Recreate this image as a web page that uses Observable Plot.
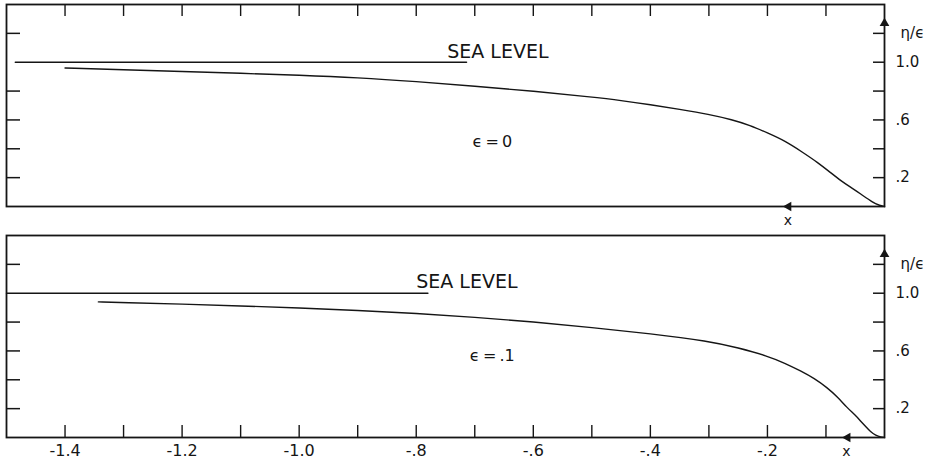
<!DOCTYPE html>
<html>
<head>
<meta charset="utf-8">
<script src="https://cdn.jsdelivr.net/npm/d3@7"></script>
<script src="https://cdn.jsdelivr.net/npm/@observablehq/plot@0.6"></script>
<style>
  html, body { margin: 0; padding: 0; background: #fff; }
  #chart svg { display: block; }
</style>
</head>
<body>
<div id="chart"></div>
<script>
// ---- Data ----
// Panel 1: epsilon = 0
const xEps0   = [-1.4,-1.3,-1.2,-1.1,-1.0,-0.9,-0.8,-0.7,-0.6,-0.5,-0.45,-0.4,-0.35,-0.3,-0.26,-0.23,-0.2,-0.17,-0.14,-0.115,-0.09,-0.075,-0.06,-0.041,-0.02,-0.008,0];
const etaEps0 = [0.96,0.948,0.936,0.923,0.91,0.893,0.866,0.834,0.80,0.758,0.735,0.706,0.673,0.639,0.601,0.563,0.51,0.455,0.376,0.308,0.228,0.18,0.139,0.088,0.028,0.006,0];
// Panel 2: epsilon = .1
const xEps1   = [-1.343,-1.3,-1.2,-1.1,-1.0,-0.9,-0.8,-0.7,-0.6,-0.5,-0.4,-0.3,-0.25,-0.2,-0.17,-0.143,-0.12,-0.098,-0.08,-0.064,-0.05,-0.041,-0.032,-0.024,-0.015,-0.006,0];
const etaEps1 = [0.94,0.935,0.925,0.912,0.898,0.881,0.86,0.833,0.802,0.762,0.72,0.668,0.622,0.565,0.515,0.461,0.41,0.346,0.28,0.207,0.155,0.115,0.075,0.04,0.015,0.003,0];

// Sea level segments (x extents), sea level value
const seaLevel = 1.0;
const seaX0 = [-1.485, -0.714];
const seaX1 = [-1.5, -0.78];

// Ticks and labels
const xMinorTicks = [-1.4,-1.3,-1.2,-1.1,-1.0,-0.9,-0.8,-0.7,-0.6,-0.5,-0.4,-0.3,-0.2,-0.1];
const xLabelTicks = [-1.4,-1.2,-1.0,-0.8,-0.6,-0.4,-0.2];
const xTickLabels = ["-1.4","-1.2","-1.0","-.8","-.6","-.4","-.2"];
const yLeftTicks  = [0.2,0.4,0.6,0.8,1.2];
const yRightTicks = [0.2,0.4,0.6,0.8,1.0,1.2];
const yLabelTicks = [0.2,0.6,1.0];
const yTickLabels = [".2",".6","1.0"];

// Annotation texts
const seaText = "SEA LEVEL";
const eps0Text = "\u03F5\u2009=\u20090";
const eps1Text = "\u03F5\u2009=\u2009.1";
const yAxisText = "\u03B7/\u03F5";
const xAxisText = "x";

// Annotation positions (data coordinates)
const seaLabel0 = {x: -0.747, y: 1.071};
const seaLabel1 = {x: -0.80, y: 1.076};
const epsLabel0 = {x: -0.67, y: 0.451};
const epsLabel1 = {x: -0.67, y: 0.565};
const xArrow0 = -0.164, xArrow1 = -0.063;
const yArrow = 1.27;
const xLab0 = -0.165, xLab1 = -0.065;

const xLabelMap = new Map(xLabelTicks.map((d, i) => [d, xTickLabels[i]]));
const yLabelMap = new Map(yLabelTicks.map((d, i) => [d, yTickLabels[i]]));
const noText = () => "";

const FONT = "'DejaVu Sans', 'Liberation Sans', sans-serif";
const INK = "#151515";

function panel({xs, etas, seaX, seaLab, epsLab, epsText, xArrow, xLab, bottom, marginTop, height}) {
  const curve = xs.map((x, i) => ({x, eta: etas[i]}));
  const sea = seaX.map(x => ({x, eta: seaLevel}));
  const marks = [
    Plot.frame({stroke: INK, strokeWidth: 1.8}),
    Plot.axisY(yLeftTicks, {anchor: "left", tickSize: -14, tickFormat: noText, label: null, stroke: INK, strokeWidth: 1.5}),
    Plot.axisY(yRightTicks, {anchor: "right", tickSize: -12, tickFormat: noText, label: null, stroke: INK, strokeWidth: 1.5}),
    Plot.axisY(yLabelTicks, {anchor: "right", tickSize: 0, tickPadding: 11, tickFormat: d => yLabelMap.get(d), label: null, fill: INK, fontSize: 15}),
    bottom
      ? Plot.axisX(xMinorTicks, {anchor: "bottom", tickSize: -12, tickFormat: noText, label: null, stroke: INK, strokeWidth: 1.4})
      : Plot.axisX(xMinorTicks, {anchor: "top", tickSize: -11, tickFormat: noText, label: null, stroke: INK, strokeWidth: 1.4}),
    bottom
      ? Plot.axisX(xLabelTicks, {anchor: "bottom", tickSize: 0, tickPadding: 7, tickFormat: d => xLabelMap.get(d), label: null, fill: INK, fontSize: 16})
      : null,
    Plot.line(sea, {x: "x", y: "eta", stroke: INK, strokeWidth: 1.4}),
    Plot.line(curve, {x: "x", y: "eta", curve: "basis", stroke: INK, strokeWidth: 1.4}),
    Plot.dot([{x: xArrow, eta: 0}], {x: "x", y: "eta", symbol: "triangle", rotate: -90, r: 3.6, fill: INK, stroke: null}),
    Plot.dot([{x: 0, eta: yArrow}], {x: "x", y: "eta", symbol: "triangle", r: 3.6, fill: INK, stroke: null}),
    Plot.text([seaText], {x: seaLab.x, y: seaLab.y, text: d => d, textAnchor: "start", fontSize: 19, fill: INK}),
    Plot.text([epsText], {x: epsLab.x, y: epsLab.y, text: d => d, fontSize: 16, fill: INK}),
    Plot.text([yAxisText], {x: 0, y: 1.2, dx: 28, text: d => d, fontSize: 15, fill: INK}),
    Plot.text([xAxisText], {x: xLab, y: 0, dy: 14, text: d => d, fontSize: 14, fill: INK})
  ].filter(Boolean);
  return Plot.plot({
    width: 935,
    height,
    marginLeft: 6,
    marginRight: 51,
    marginTop,
    marginBottom: height - marginTop - 202,
    x: {domain: [-1.5, 0]},
    y: {domain: [0, 1.4]},
    style: {fontFamily: FONT, fontSize: "16px", background: "#fff", color: INK, overflow: "visible"},
    marks
  });
}

const panelTop = panel({xs: xEps0, etas: etaEps0, seaX: seaX0, seaLab: seaLabel0, epsLab: epsLabel0, epsText: eps0Text,
  xArrow: xArrow0, xLab: xLab0, bottom: false, marginTop: 4, height: 230});
const panelBottom = panel({xs: xEps1, etas: etaEps1, seaX: seaX1, seaLab: seaLabel1, epsLab: epsLabel1, epsText: eps1Text,
  xArrow: xArrow1, xLab: xLab1, bottom: true, marginTop: 5, height: 231});
document.getElementById("chart").append(panelTop, panelBottom);
</script>
</body>
</html>
